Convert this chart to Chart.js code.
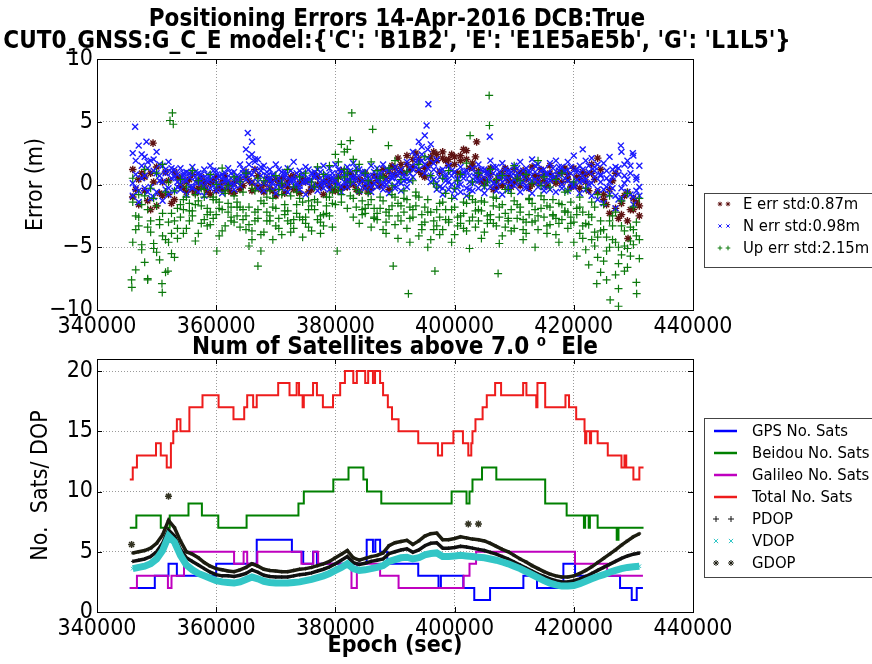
<!DOCTYPE html>
<html>
<head>
<meta charset="utf-8">
<script src="https://cdn.jsdelivr.net/npm/chart.js@4.4.0/dist/chart.umd.min.js"></script>
<style>
  html, body { margin: 0; padding: 0; background: #fff; }
  #wrap { position: relative; width: 872px; height: 664px; overflow: hidden; background: #fff; }
  canvas { position: absolute; left: 0; }
  #errCanvas { top: 0; }
  #satCanvas { top: 330px; }
</style>
</head>
<body>
<div id="wrap">
  <canvas id="errCanvas" width="872" height="340"></canvas>
  <canvas id="satCanvas" width="872" height="334"></canvas>
</div>
<script>
// ---------- axes ----------
const xTicks = [340000, 360000, 380000, 400000, 420000, 440000];
const errYTicks = [-10, -5, 0, 5, 10];
const satYTicks = [0, 5, 10, 15, 20];

// ---------- positioning errors (epochs in ks) ----------
const gridA = [346,347,348,349,350,351,352,353,354,355,356,357,358,359,360,361,362,363,364,365,366,367,368,369,370,371,372,373,374,375,376,377,378,379,380,381,382,383,384,385,386,387,388,389,390,391,392,393,394,395,396,397,398,399,400,401,402,403,404,405,406,407,408,409,410,411,412,413,414,415,416,417,418,419,420,421,422,423,424,425,426,427,428,429,430,431];
const gridB = [346.5,347.5,348.5,349.5,350.5,351.5,352.5,353.5,354.5,355.5,356.5,357.5,358.5,359.5,360.5,361.5,362.5,363.5,364.5,365.5,366.5,367.5,368.5,369.5,370.5,371.5,372.5,373.5,374.5,375.5,376.5,377.5,378.5,379.5,380.5,381.5,382.5,383.5,384.5,385.5,386.5,387.5,388.5,389.5,390.5,391.5,392.5,393.5,394.5,395.5,396.5,397.5,398.5,399.5,400.5,401.5,402.5,403.5,404.5,405.5,406.5,407.5,408.5,409.5,410.5,411.5,412.5,413.5,414.5,415.5,416.5,417.5,418.5,419.5,420.5,421.5,422.5,423.5,424.5,425.5,426.5,427.5,428.5,429.5,430.5];

// East error (m)
const eA = [1.2,-1.6,0.6,-2.0,1.4,-0.9,0.3,-1.2, 0.5,-0.6,0.8,-0.3,0.2,-0.8,0.6,-0.4,0.1,-0.7,0.4, 1.0,-0.5,0.7, -0.6,0.3,-0.9,0.5,-0.2,0.7,-0.7,0.2,-0.4,0.6,-0.8, 0.4,-0.5,1.1,-0.2,0.6,-0.6,0.9,-0.3,0.5,1.2,-0.4,0.8,1.6, 2.3,1.4,2.0,0.6,1.8,2.4, 2.6,1.5,2.2,1.9,2.7,1.7, 1.1,0.4,1.3,-0.2,0.9,0.3,1.2,-0.1,0.7,1.4,0.2,0.8,1.5,0.1,1.0, 0.4,1.3,-0.3,0.8,1.6,2.1, -0.8,-2.3,0.9,-1.5,-2.9,-1.1,-2.5];
const eB = [-0.4,0.9,-1.3,0.2,-0.7,1.0,-1.5,0.6, -0.3,0.4,-0.7,0.6,-0.5,0.3,-0.2,0.7,-0.6,0.5,-0.1, 0.3,1.2,-0.4, 0.5,-0.5,0.2,-0.7,0.6,-0.3,0.4,-0.6,0.8,-0.2,0.3, -0.5,0.6,-0.2,0.9,-0.4,0.3,-0.6,0.7,-0.1,0.5,1.5,2.1,0.9, 1.2,2.5,0.8,1.5,2.6,1.0, 1.9,2.4,0.9,2.8,1.3,2.2, 0.2,1.0,-0.4,0.6,1.3,-0.2,0.5,1.1,-0.3,0.7,1.2,-0.1,0.4,0.9,1.3, -0.2,0.6,1.0,-0.5,0.4,1.2, -1.6,0.3,-2.7,-0.9,-2.0,-1.4];
const eC = [-1.0,0.4,-0.5,0.9,-1.7,0.2,-0.8,1.0, -0.1,0.2,-0.4,0.3,-0.2,0.1,-0.5,0.2,-0.3,0.1,-0.4, 0.6,0.1,-0.2, 0.0,-0.3,0.4,-0.1,0.2,-0.4,0.1,0.3,-0.2,0.0,0.2, -0.1,0.2,-0.3,0.3,0.0,0.4,-0.2,0.1,0.3,0.7,1.0,1.3,1.1, 1.6,2.0,1.1,1.3,2.2,1.9, 2.1,2.0,1.6,2.3,2.0,1.4, 0.7,0.1,0.8,0.3,-0.1,0.6,0.2,0.9,0.4,0.0,0.6,0.3,0.9,0.5,0.2, 0.8,-0.1,0.5,0.2,0.9,-0.6, -1.2,-0.4,-1.9,-2.4,-0.6,-2.0,-1.7];
const eOutEpochs = [349400, 403700, 429100];
const eOut = [3.3, 3.4, -4.3];

// North error (m)
const nA = [2.5,3.1,2.2,1.9,2.6,1.5,1.8,1.2, 1.3,1.0,1.4,0.9,1.2,1.5,1.1,0.8,1.3,1.0,1.6, 2.8,2.4,2.0, 1.5,1.2,1.6,1.0,1.3,1.8,1.1,1.4,0.9,1.2,1.5, 1.3,1.6,1.1,1.4,1.7,1.2,1.0,1.5,1.3,1.6,1.1,1.4,1.2, 1.8,2.6,3.4,3.9,3.2,2.0, 1.2,1.5,1.0,1.4,1.1,1.3, 1.6,1.2,1.9,1.4,1.7,1.1,1.5,1.8,1.3,2.0,1.6,1.2,1.7,1.9,1.4, 1.8,2.3,1.5,1.9,2.1,1.6, 1.7,2.2,1.4,2.6,1.9,2.3,1.5];
const nB = [0.8,1.5,-0.6,1.1,0.3,0.9,0.5,0.2, 0.4,-0.2,0.6,0.1,0.5,-0.1,0.7,0.3,0.0,0.5,0.9, 1.6,1.2,0.7, 0.4,0.8,0.1,0.6,0.3,0.9,0.2,0.5,0.7,0.1,0.6, 0.4,0.8,0.2,0.6,0.9,0.3,0.5,0.1,0.7,0.4,0.8,0.2,0.6, 0.9,1.8,2.4,2.1,1.2,0.6, 0.3,0.7,-0.1,0.5,0.2,0.6, 0.8,0.3,0.9,0.5,0.7,0.2,0.9,0.6,0.4,1.0,0.7,0.3,0.8,1.1,0.5, 0.9,0.4,0.7,1.0,0.6,0.2, 0.5,-0.3,0.8,0.1,0.9,-0.5];
const nC = [-0.9,-1.4,-0.3,-1.1,-0.6,-1.3,-0.8,-0.5, -0.4,-0.8,-0.2,-0.6,-0.9,-0.3,-0.5,-0.7,-0.2,-0.4,-0.1, 0.4,0.2,-0.3, -0.5,-0.2,-0.7,-0.3,-0.6,-0.1,-0.4,-0.8,-0.2,-0.5,-0.3, -0.4,-0.1,-0.6,-0.2,0.1,-0.5,-0.3,-0.6,-0.2,-0.4,-0.7,-0.3,-0.5, -0.2,0.6,1.2,0.9,0.2,-0.4, -0.8,-0.4,-1.0,-0.6,-0.9,-0.5, -0.3,-0.7,-0.2,-0.5,-0.8,-0.4,-0.1,-0.6,-0.3,-0.7,-0.2,-0.5,-0.4,-0.6,-0.3, -0.5,-0.2,-0.7,-0.4,-0.9,-1.2, -1.5,-0.8,-1.9,-1.1,-0.6,-1.6,-0.9];
const nD = [1.9,2.4,1.3,2.0,1.6,1.2,1.0,0.8, 0.9,0.6,1.0,0.5,0.8,1.1,0.6,0.4,0.9,0.7,1.2, 2.2,1.8,1.4, 1.0,0.7,1.2,0.8,1.1,0.5,0.9,1.2,0.6,1.0,0.8, 0.9,1.2,0.6,1.1,1.3,0.8,0.7,1.0,0.9,1.2,0.6,1.0,0.9, 1.4,2.2,3.0,2.8,1.7,1.1, 0.8,1.1,0.5,1.0,0.7,0.9, 1.2,0.8,1.4,1.0,1.2,0.7,1.3,1.1,0.9,1.5,1.1,0.8,1.3,1.4,1.0, 1.4,1.0,1.2,1.5,1.1,0.8, 1.1,0.6,1.3,0.7,1.5,0.4];
const nE = [0.1,-0.5,0.7,-0.2,0.9,0.2,-0.3,0.6, 0.0,0.3,-0.3,0.2,-0.1,0.4,0.1,-0.2,0.3,0.0,0.4, 1.0,0.8,0.2, 0.1,0.3,-0.2,0.2,0.0,0.4,-0.1,0.2,0.3,-0.1,0.1, 0.0,0.3,-0.2,0.2,0.5,0.0,0.1,-0.2,0.3,0.0,0.2,-0.1,0.1, 0.4,1.2,1.8,1.6,0.7,0.1, -0.3,0.2,-0.5,0.0,-0.3,0.1, 0.3,-0.2,0.4,0.0,0.2,-0.1,0.4,0.1,-0.1,0.3,0.2,-0.2,0.3,0.5,0.0, 0.3,0.0,0.2,0.4,0.1,-0.4, -0.4,0.2,-0.9,-0.3,0.4,-1.0,-0.2];
const nF = [-0.3,0.5,1.8,-1.0,0.7,-0.4,1.3,-0.2, 0.7,0.9,0.2,0.8,0.3,0.6,0.0,0.9,0.5,0.2,0.6, 0.9,2.0,1.1, 0.7,0.2,0.5,1.0,0.4,0.0,0.7,0.3,1.0,0.5,0.2, 0.6,0.0,0.9,0.3,0.5,1.0,0.2,0.6,0.4,0.0,0.5,0.7,0.3, 0.3,1.4,1.9,1.3,0.4,-0.2, 0.6,0.0,0.4,0.8,-0.4,0.3, 0.4,1.0,0.1,0.7,0.4,1.0,0.6,0.2,1.1,0.4,0.0,0.9,0.5,0.7,1.1, 0.1,1.2,0.3,0.0,1.4,0.7, -0.2,1.2,-1.2,1.6,-0.8,0.6];
const nOutEpochs = [346400, 348300, 365300, 366000, 395300, 395600, 405900, 421500, 427900, 429900];
const nOut = [4.6, 3.4, 4.1, 3.4, 4.7, 6.4, 3.8, 2.8, 3.1, 2.5];

// Up error (m)
const uA = [0.5,-0.8,1.2,-0.3,0.9,1.6,0.2,-0.5, 0.4,-0.2,1.1,0.3,-0.4,0.8,0.0,1.3,-0.1,0.6,0.2, 0.9,-0.3,0.5, 0.3,-0.5,0.7,0.1,1.2,-0.2,0.6,0.9,0.2,1.4,0.8, 1.5,2.4,3.2,2.8,2.0,1.6,0.9,1.8,1.1,0.6,1.3,1.9,0.4, 1.0,0.3,1.6,2.2,0.7,-0.2, 0.5,1.1,-0.3,0.8,1.7,0.2, 0.9,-0.1,1.2,0.4,0.7,-0.4,1.5,0.3,0.8,0.1,1.9,0.6,-0.2,0.4,0.9, -0.5,0.2,-1.0,-0.3,-1.4,-0.8, -1.6,-0.9,-2.2,-1.3,-0.7,-1.8,-1.1];
const uB = [-2.5,-1.6,-3.4,-1.1,-2.8,-0.6,-3.9,-1.9, -1.2,-2.1,-0.8,-1.7,-2.4,-1.0,-1.9,-0.7,-2.6,-1.4,-2.0, -1.8,-2.9,-1.3, -2.2,-1.1,-2.7,-1.6,-0.9,-2.3,-1.4,-2.0,-1.2,-2.5,-1.0, -0.6,0.5,1.2,0.2,-0.4,-1.3,-0.7,-1.9,-1.0,-2.2,-0.8,-1.5,-1.1, -1.8,-0.6,-2.4,-1.2,-2.9,-1.5, -2.0,-1.1,-2.6,-1.4,-0.9,-2.1, -1.3,-2.5,-1.0,-1.8,-2.3,-0.7,-1.6,-2.8,-1.2,-2.0,-0.9,-1.7,-2.4,-1.5,-2.1, -2.6,-1.9,-3.3,-2.4,-3.8,-2.9, -4.2,-3.3,-5.0,-3.7,-4.5,-3.0];
const uC = [-4.6,-3.3,-6.2,-2.9,-5.4,-4.1,-3.0,-5.8, -2.6,-3.5,-2.1,-3.9,-2.8,-3.2,-2.4,-3.7,-2.2,-3.0,-3.4, -3.6,-4.4,-2.7, -3.8,-2.5,-3.3,-4.0,-2.9,-3.5,-2.6,-3.1,-3.7,-2.8,-3.3, -2.5,-1.6,-0.8,-1.9,-2.6,-3.1,-2.3,-3.4,-2.8,-3.6,-2.5,-3.2,-2.9, -3.5,-2.6,-4.1,-3.0,-4.4,-3.3, -3.6,-2.8,-4.0,-3.1,-3.7,-2.6, -2.9,-3.8,-2.4,-3.3,-4.1,-2.7,-3.5,-2.2,-3.9,-3.0,-3.6,-2.6,-3.2,-4.0,-2.8, -3.5,-4.6,-3.9,-5.2,-4.4,-5.8, -6.1,-5.0,-7.2,-5.6,-6.6,-4.8,-5.9];
const uD = [-6.8,-5.2,-7.5,-4.7,-6.0,-7.0,-5.5,-4.3, -3.9,-1.5,-4.5,-0.3,-3.3,-1.2,-4.1,-0.5,-2.9,-1.8,-0.6, -4.9,-0.5,-5.3, -1.0,-4.4,-0.4,-2.1,-3.8,-0.6,-4.2,-1.3,-0.2,-3.9,-1.7, -3.4,1.8,2.6,3.5,1.1,-2.0,0.3,-2.7,0.5,-3.9,-0.1,-4.3,-0.5, -4.6,-0.9,-3.6,-5.0,0.1,-4.0, -0.7,-4.6,0.3,-3.5,-5.1,-1.4, -4.3,0.2,-3.1,-4.7,-0.4,-3.7,0.5,-4.4,-1.1,-5.0,-0.1,-3.9,-1.2,-4.6,-0.6, -1.4,-5.7,-2.2,-6.4,-1.8,-7.0, -7.6,-2.5,-8.3,-6.9,-3.4,-7.8];
const uE = [-3.6,-4.8,-2.0,-5.1,-3.2,-4.4,-2.3,-3.5, -2.0,-2.9,-1.6,-3.1,-1.9,-2.7,-1.4,-3.3,-1.8,-2.5,-2.8, -3.2,-2.2,-4.0, -2.9,-1.8,-3.5,-2.4,-3.1,-1.6,-2.8,-3.4,-2.0,-3.0,-2.3, -1.5,-0.5,0.6,-0.9,-1.8,-2.4,-1.6,-2.6,-1.9,-3.0,-1.7,-2.5,-2.2, -2.7,-1.7,-3.2,-2.2,-3.6,-2.6, -2.8,-2.0,-3.3,-2.3,-2.9,-3.4, -2.1,-3.1,-1.7,-2.6,-3.4,-2.0,-2.7,-3.6,-2.4,-2.9,-1.9,-3.3,-2.5,-3.1,-2.2, -3.1,-2.4,-4.3,-3.2,-4.9,-3.7, -5.3,-4.4,-6.3,-4.9,-5.7,-4.1];
const uF = [-1.4,-2.6,-0.9,-3.8,-1.7,-2.3,-4.6,-2.9, -1.6,-1.0,-2.5,-1.3,-1.0,-2.2,-1.2,-2.0,-1.5,-0.9,-1.8, -2.5,-3.7,-2.0, -1.5,-2.9,-1.9,-0.8,-2.1,-2.8,-1.1,-2.6,-1.7,-1.4,-2.4, -1.0,-0.2,-1.4,0.9,-1.1,-0.6,-1.9,-1.2,-2.3,-1.3,-2.0,-1.0,-1.7, -1.2,-2.0,-1.0,-1.8,-2.2,-2.0, -1.4,-3.0,-1.8,-2.5,-1.5,-1.2, -2.0,-1.4,-2.8,-1.1,-1.6,-2.9,-1.3,-1.8,-3.0,-1.5,-2.5,-1.2,-1.8,-2.7,-1.6, -2.2,-3.0,-1.8,-3.1,-2.6,-4.2, -3.6,-2.9,-4.6,-3.3,-5.1,-3.6,-4.4];
const upOutEpochs = [345800, 345850, 348500, 350900, 350950, 351900, 352250, 352650, 352800, 360100, 367000, 380300, 382750, 386250, 388900, 389700, 392250, 396700, 402600, 405800, 405850, 407300, 423850, 426100, 427500, 430550];
const upOut = [-7.6, -8.2, -7.6, -7.9, -8.6, -6.9, 5.1, 5.7, 4.8, -5.3, -6.5, -5.3, 5.7, 4.4, 3.1, -6.5, -8.7, -6.9, 3.9, 7.1, 4.7, -7.1, -7.9, -9.2, -9.7, -8.7];

// ---------- satellites (change points, epoch s) ----------
const gpsEpochs = [345500, 349700, 352000, 353400, 360000, 366800, 372700, 374600, 376250, 376900, 385250, 386300, 386700, 387500, 388700, 393900, 397300, 397700, 401460, 403300, 405950, 411540, 413830, 418250, 420210, 427760, 429720, 430560, 431600];
const gpsSats = [2, 3, 4, 3, 4, 6, 5, 4, 5, 4, 6, 5, 6, 5, 4, 3, 2, 3, 2, 1, 2, 3, 2, 4, 3, 2, 1, 2, 2];
const beidouEpochs = [345500, 346600, 350700, 352200, 355350, 357600, 360350, 365100, 373800, 374700, 379650, 382200, 384700, 385300, 387700, 399500, 402000, 402500, 403000, 404600, 407000, 415200, 418800, 421700, 421900, 422500, 422700, 424000, 427200, 427500, 431700];
const beidouSats = [7, 8, 7, 8, 9, 8, 7, 8, 9, 10, 11, 12, 11, 10, 9, 10, 9, 10, 11, 12, 11, 9, 8, 7, 8, 7, 8, 7, 6, 7, 7];
const galileoEpochs = [345500, 346700, 351900, 352500, 354600, 363000, 364600, 365200, 366900, 374300, 376300, 377100, 382700, 383600, 387500, 390600, 401500, 402500, 403600, 420200, 425600, 431600];
const galileoSats = [2, 3, 2, 3, 5, 4, 5, 4, 5, 4, 5, 4, 2, 4, 3, 2, 3, 4, 5, 4, 3, 3];
const totalEpochs = [345500, 346000, 346700, 349900, 350700, 351700, 352400, 352800, 353400, 354000, 355500, 357700, 360400, 362900, 364700, 365200, 366200, 366800, 370400, 372300, 373500, 373900, 374500, 374700, 376250, 376900, 377900, 379600, 380800, 381600, 383000, 383600, 385000, 385500, 386300, 386650, 387500, 388000, 388800, 389500, 390600, 393900, 397200, 397900, 399800, 401400, 402300, 402800, 403000, 403500, 404700, 405400, 406800, 407800, 411500, 412050, 413700, 413900, 415200, 418600, 419200, 420400, 421800, 421900, 422100, 422700, 422900, 424000, 425700, 428000, 428500, 428800, 430000, 431000, 431700];
const totalSats = [11, 12, 13, 14, 13, 12, 14, 15, 16, 15, 17, 18, 17, 16, 17, 18, 17, 18, 19, 18, 19, 18, 17, 18, 19, 18, 17, 18, 19, 20, 19, 20, 19, 20, 19, 20, 19, 18, 17, 16, 15, 14, 13, 14, 15, 14, 13, 14, 15, 16, 17, 18, 19, 18, 19, 18, 17, 19, 17, 18, 17, 16, 15, 14, 15, 14, 15, 14, 13, 12, 13, 12, 11, 12, 12];

// DOP on gridA
const pdop = [4.2,4.3,4.4,4.6,5.0,5.7,6.8,6.3,5.2,4.5, 4.2,3.9,3.6,3.3,3.1,3.0,3.0,2.95,3.05,3.2, 3.5,3.3,3.05,2.95,2.9,2.9,2.9,3.0,3.1,3.15, 3.25,3.4,3.55,3.75,4.0,4.3,4.6,4.1,3.95,4.05, 4.2,4.3,4.4,4.85,5.0,5.15,5.25,4.95,5.15,5.5, 5.7,5.75,5.3,5.3,5.35,5.45,5.4,5.3,5.2,5.1, 4.95,4.8,4.6,4.4,4.15,3.9,3.65,3.4,3.15,2.95, 2.75,2.6,2.5,2.5,2.6,2.75,2.95,3.2,3.45,3.7, 3.95,4.2,4.45,4.65,4.8,4.9];
const vdop = [3.6,3.7,3.8,4.0,4.4,5.1,6.3,5.8,4.7,3.9, 3.5,3.2,3.0,2.8,2.6,2.5,2.45,2.4,2.5,2.7, 2.9,2.75,2.55,2.45,2.4,2.4,2.4,2.45,2.5,2.6, 2.7,2.85,3.0,3.2,3.45,3.7,4.0,3.6,3.45,3.5, 3.6,3.7,3.85,4.2,4.35,4.5,4.55,4.4,4.5,4.75, 4.85,4.9,4.6,4.6,4.65,4.7,4.65,4.6,4.55,4.5, 4.4,4.3,4.15,4.0,3.8,3.6,3.35,3.1,2.85,2.6, 2.4,2.25,2.15,2.15,2.2,2.35,2.55,2.75,2.95,3.1, 3.3,3.45,3.6,3.7,3.75,3.8];
const gdop = [4.9,5.0,5.1,5.3,5.7,6.4,7.6,7.0,5.9,5.0, 4.8,4.5,4.1,3.8,3.6,3.5,3.4,3.35,3.5,3.7, 4.0,3.8,3.55,3.45,3.4,3.35,3.35,3.45,3.55,3.6, 3.7,3.85,4.0,4.2,4.5,4.8,5.1,4.5,4.3,4.45, 4.6,4.7,4.9,5.5,5.75,5.85,5.95,5.6,5.9,6.3, 6.5,6.55,6.0,6.0,6.1,6.25,6.15,6.05,6.0,5.9, 5.7,5.45,5.2,5.0,4.7,4.4,4.15,3.85,3.6,3.35, 3.15,3.0,2.9,2.9,3.0,3.2,3.45,3.75,4.1,4.45, 4.8,5.15,5.55,5.9,6.25,6.5];
const gdopOutEpochs = [345800, 352000, 402300, 404000];
const gdopOut = [5.6, 9.6, 7.3, 7.3];

// ---------- helpers ----------
function ptsK(gridK, ys) {
  const n = Math.min(gridK.length, ys.length);
  const out = [];
  for (let i = 0; i < n; i++) out.push({ x: gridK[i] * 1000, y: ys[i] });
  return out;
}
function pts(xs, ys) {
  return ys.map((y, i) => ({ x: xs[i], y: y }));
}
const minus = v => String(v).replace('-', '\u2212');

// the picture uses a narrow sans; take DejaVu Sans Condensed when it is there
const probe = document.createElement('canvas').getContext('2d');
function textW(font) { probe.font = font; return probe.measureText('340000 Positioning').width; }
const hasCond = Math.abs(textW('20px "DejaVu Sans Condensed", monospace') - textW('20px monospace')) > 1;
const FAM = hasCond ? '"DejaVu Sans Condensed", "DejaVu Sans"' : '"DejaVu Sans"';
const TICK = hasCond ? 23 : 21;
const TITLE = hasCond ? 24 : 21;
const LEG = hasCond ? 16.5 : 15;

Chart.defaults.font.family = FAM;
Chart.defaults.font.size = TICK;
Chart.defaults.color = '#000';

const gridColor = '#9a9a9a';

// title lines drawn above the plot area
const figTitle = {
  id: 'figTitle',
  afterDraw(chart, args, o) {
    const ctx = chart.ctx;
    ctx.save();
    ctx.fillStyle = '#000';
    ctx.font = 'bold ' + TITLE + 'px ' + FAM;
    ctx.textAlign = 'center';
    ctx.textBaseline = 'middle';
    const cx = (chart.chartArea.left + chart.chartArea.right) / 2 + (o.dx || 0);
    o.lines.forEach((t, i) => ctx.fillText(t, cx, o.y[i]));
    ctx.restore();
  }
};

// black box round the axes plus inward ticks
const frame = {
  id: 'frame',
  afterDatasetsDraw(chart) {
    const { ctx, chartArea: a, scales } = chart;
    ctx.save();
    ctx.strokeStyle = '#000';
    ctx.lineWidth = 1;
    ctx.strokeRect(Math.round(a.left) + 0.5, Math.round(a.top) + 0.5, Math.round(a.right - a.left), Math.round(a.bottom - a.top));
    ctx.beginPath();
    scales.x.ticks.forEach(t => {
      const x = Math.round(scales.x.getPixelForValue(t.value)) + 0.5;
      ctx.moveTo(x, a.bottom); ctx.lineTo(x, a.bottom - 5);
      ctx.moveTo(x, a.top); ctx.lineTo(x, a.top + 5);
    });
    scales.y.ticks.forEach(t => {
      const y = Math.round(scales.y.getPixelForValue(t.value)) + 0.5;
      ctx.moveTo(a.left, y); ctx.lineTo(a.left + 5, y);
      ctx.moveTo(a.right, y); ctx.lineTo(a.right - 5, y);
    });
    ctx.stroke();
    ctx.restore();
  }
};

// framed legend outside the axes, on the right
const boxLegend = {
  id: 'boxLegend',
  afterDraw(chart, args, o) {
    const ctx = chart.ctx;
    ctx.save();
    ctx.fillStyle = '#fff';
    ctx.fillRect(o.x, o.y, o.w, o.h);
    ctx.strokeStyle = '#444';
    ctx.lineWidth = 1;
    ctx.strokeRect(o.x + 0.5, o.y + 0.5, o.w, o.h);
    ctx.font = LEG + 'px ' + FAM;
    ctx.textAlign = 'left';
    ctx.textBaseline = 'middle';
    const items = chart.data.datasets.filter(d => d.label);
    items.forEach((d, i) => {
      const y = o.rowY + i * o.rowGap;
      if (d.legendStyle === 'line') {
        ctx.strokeStyle = d.borderColor;
        ctx.lineWidth = 2.5;
        ctx.beginPath();
        ctx.moveTo(o.lineX[0], y);
        ctx.lineTo(o.lineX[1], y);
        ctx.stroke();
      } else {
        ctx.strokeStyle = d.legendColor || d.pointBorderColor || d.borderColor;
        ctx.fillStyle = ctx.strokeStyle;
        ctx.lineWidth = 1;
        o.markX.forEach(mx => {
          Chart.helpers.drawPoint(ctx, { pointStyle: d.pointStyle, radius: o.markR, borderWidth: 1, rotation: 0 }, mx, y);
        });
      }
      ctx.fillStyle = '#000';
      ctx.fillText(d.label, o.textX, y + 1);
    });
    ctx.restore();
  }
};

function xScale(extra) {
  return Object.assign({
    type: 'linear', min: 340000, max: 440000,
    afterBuildTicks: s => { s.ticks = xTicks.map(v => ({ value: v })); },
    grid: { color: gridColor, lineWidth: 1, drawTicks: false },
    border: { display: false, dash: [1, 2] },
    ticks: { padding: 3, maxRotation: 0, autoSkip: false, callback: v => String(v) }
  }, extra);
}
function yScale(min, max, tickVals, title, titlePad) {
  return {
    type: 'linear', min: min, max: max,
    afterBuildTicks: s => { s.ticks = tickVals.map(v => ({ value: v })); },
    afterFit: s => { s.width = 97; },
    grid: { color: gridColor, lineWidth: 1, drawTicks: false },
    border: { display: false, dash: [1, 2] },
    ticks: { padding: 4, callback: v => minus(v) },
    title: { display: true, text: title, font: { size: TICK }, padding: { top: titlePad, bottom: 0 } }
  };
}

// ===============================
// Positioning errors
// ===============================
const eColor = '#5e1212';
const nColor = '#1a1aff';
const uColor = '#0c7a0c';

new Chart(document.getElementById('errCanvas'), {
  type: 'scatter',
  data: {
    datasets: [
      {
        label: 'E err std:0.87m',
        data: ptsK(gridA, eA).concat(ptsK(gridB, eB), ptsK(gridA, eC), pts(eOutEpochs, eOut)),
        pointStyle: 'star', pointRadius: 3.8, pointBorderWidth: 1.4,
        borderColor: eColor, backgroundColor: eColor, order: 2
      },
      {
        label: 'N err std:0.98m',
        data: ptsK(gridA, nA).concat(ptsK(gridB, nB), ptsK(gridA, nC), ptsK(gridB, nD), ptsK(gridA, nE), ptsK(gridB, nF), pts(nOutEpochs, nOut)),
        pointStyle: 'crossRot', pointRadius: 4.2, pointBorderWidth: 1.4,
        borderColor: nColor, backgroundColor: nColor, order: 1
      },
      {
        label: 'Up err std:2.15m',
        data: ptsK(gridA, uA).concat(ptsK(gridB, uB), ptsK(gridA, uC), ptsK(gridB, uD), ptsK(gridB, uE), ptsK(gridA, uF), pts(upOutEpochs, upOut)),
        pointStyle: 'cross', pointRadius: 4, pointBorderWidth: 1.2,
        borderColor: uColor, backgroundColor: uColor, order: 0
      }
    ]
  },
  options: {
    responsive: false,
    animation: false,
    events: [],
    layout: { padding: { left: 0, right: 179, top: 59, bottom: 0 } },
    scales: {
      x: xScale({ afterFit: s => { s.height = 30; } }),
      y: yScale(-10, 10, errYTicks, 'Error (m)', 22)
    },
    plugins: {
      legend: { display: false },
      tooltip: { enabled: false },
      figTitle: {
        lines: ['Positioning Errors 14-Apr-2016 DCB:True',
                "CUT0_GNSS:G_C_E model:{'C': 'B1B2', 'E': 'E1E5aE5b', 'G': 'L1L5'}"],
        y: [20, 42], dx: 2
      },
      boxLegend: {
        x: 704, y: 193, w: 190, h: 74,
        rowY: 204, rowGap: 22, markX: [720, 728], markR: 2.3, textX: 743
      }
    }
  },
  plugins: [frame, figTitle, boxLegend]
});

// ===============================
// Satellites and DOP
// ===============================
const stepLine = (label, xs, ys, color, order) => ({
  label: label, data: pts(xs, ys), borderColor: color, backgroundColor: color,
  borderWidth: 2, pointRadius: 0, stepped: true, showLine: true, legendStyle: 'line', order: order
});
const dopLine = (label, ys, color, style, width, radius, order) => ({
  label: label, data: ptsK(gridA, ys), borderColor: color, backgroundColor: color,
  borderWidth: width, pointRadius: radius, pointStyle: style, pointBorderWidth: 1,
  pointBorderColor: color, showLine: true, legendStyle: 'marker', order: order
});

new Chart(document.getElementById('satCanvas'), {
  type: 'line',
  data: {
    datasets: [
      stepLine('GPS No. Sats', gpsEpochs, gpsSats, '#0000ff', 6),
      stepLine('Beidou No. Sats', beidouEpochs, beidouSats, '#008000', 5),
      stepLine('Galileo No. Sats', galileoEpochs, galileoSats, '#bf00bf', 4),
      stepLine('Total No. Sats', totalEpochs, totalSats, '#ee1c1c', 3),
      dopLine('PDOP', pdop, '#111111', 'cross', 3.5, 1.8, 2),
      dopLine('VDOP', vdop, '#33c6c6', 'crossRot', 7, 2.5, 1),
      dopLine('GDOP', gdop, '#1c1c10', 'star', 3.5, 1.8, 0),
      {
        data: pts(gdopOutEpochs, gdopOut), showLine: false, pointStyle: 'star',
        pointRadius: 3.5, pointBorderWidth: 1.5, borderColor: '#333322', backgroundColor: '#333322', order: 0
      }
    ]
  },
  options: {
    responsive: false,
    animation: false,
    events: [],
    layout: { padding: { left: 0, right: 179, top: 29, bottom: 0 } },
    scales: {
      x: xScale({
        afterFit: s => { s.height = 52; },
        title: { display: true, text: 'Epoch (sec)', font: { size: TICK, weight: 'bold' }, padding: { top: 0, bottom: 4 } }
      }),
      y: yScale(0, 21, satYTicks, 'No.  Sats/ DOP', 27)
    },
    plugins: {
      legend: { display: false },
      tooltip: { enabled: false },
      figTitle: {
        lines: ['Num of Satellites above 7.0 \u2070  Ele'],
        y: [18]
      },
      boxLegend: {
        x: 704, y: 88, w: 190, h: 159,
        rowY: 101, rowGap: 22, lineX: [714, 737], markX: [716, 731], markR: 3, textX: 752
      }
    }
  },
  plugins: [frame, figTitle, boxLegend]
});
</script>
</body>
</html>
